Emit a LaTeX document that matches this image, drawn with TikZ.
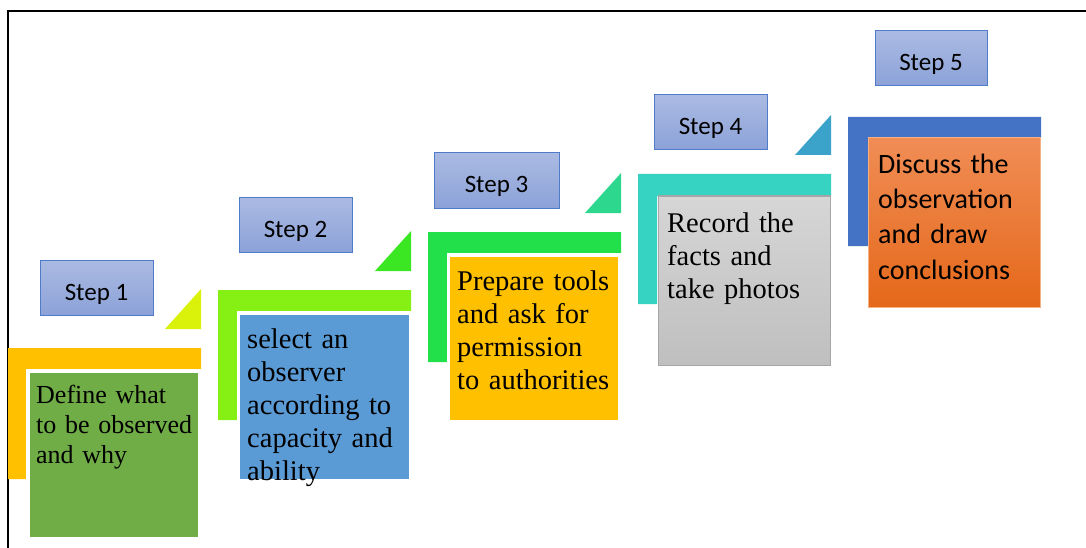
\documentclass[tikz,border=0pt]{standalone}
\usepackage{fontspec}
\setmainfont{Liberation Serif}
\newfontfamily\carlito{Carlito}
% palette
\definecolor{steptop}{HTML}{AABAE2}
\definecolor{stepbot}{HTML}{8CA2D8}
\definecolor{stepedge}{HTML}{4F7BC9}
\definecolor{lorange}{HTML}{FFC000}
\definecolor{llime}{HTML}{86F014}
\definecolor{lgreen}{HTML}{22E04A}
\definecolor{lteal}{HTML}{36D3C3}
\definecolor{lblue}{HTML}{4472C4}
\definecolor{tyellow}{HTML}{DAF20A}
\definecolor{tgreen}{HTML}{3BE622}
\definecolor{tmint}{HTML}{2DD88E}
\definecolor{tcyan}{HTML}{3BA3C9}
\definecolor{bgreen}{HTML}{70AD47}
\definecolor{bblue}{HTML}{5B9BD5}
\definecolor{bgold}{HTML}{FFC000}
\definecolor{bgreytop}{HTML}{D6D6D6}
\definecolor{bgreybot}{HTML}{BFBFBF}
\definecolor{bgreyedge}{HTML}{A6A6A6}
\definecolor{borangetop}{HTML}{F08D55}
\definecolor{borangebot}{HTML}{E5681A}
\definecolor{borangeedge}{HTML}{F4B183}
\begin{document}
\begin{tikzpicture}[x=1pt,y=-1pt,
  steplabel/.style={draw=stepedge, line width=1pt, top color=steptop,
    bottom color=stepbot, font=\carlito\fontsize{25}{30}\selectfont,
    inner sep=0pt, text height=25pt, text depth=0pt,
    minimum height=55pt, minimum width=113pt},
  serifsmall/.style={anchor=base west, inner sep=0pt, text width=240pt,
    font=\fontsize{26}{30}\selectfont},
  seriftext/.style={anchor=base west, inner sep=0pt, text width=240pt,
    font=\fontsize{28.5}{33}\selectfont},
  sanstext/.style={anchor=base west, inner sep=0pt, text width=240pt,
    font=\carlito\fontsize{28}{35}\selectfont},
]
\useasboundingbox (0,0) rectangle (1086,548);

% outer frame (top and left edges)
\draw[line width=2pt] (8,548) -- (8,11) -- (1086,11);

% ---- step 1 ----
\fill[lorange] (8,348) -- (201,348) -- (201,369) -- (26,369) -- (26,479) -- (8,479) -- cycle;
\fill[tyellow] (201,289) -- (201,329) -- (165,329) -- cycle;
\fill[white] (26,369) rectangle (201,541);
\fill[bgreen] (30,373) rectangle (198,537);
\node[steplabel] (s1) at (96.5,287.5) {Step 1};
\node[serifsmall] (t1) at (36,403) {Define what\\to be observed\\and why};

% ---- step 2 ----
\fill[llime] (218,290) -- (411,290) -- (411,311) -- (237,311) -- (237,420) -- (218,420) -- cycle;
\fill[tgreen] (411,231) -- (411,271) -- (375,271) -- cycle;
\fill[white] (237,311) rectangle (411,482);
\fill[bblue] (240,315) rectangle (409,479);
\node[steplabel] (s2) at (295.5,224.5) {Step 2};
\node[seriftext] (t2) at (247,348) {select an\\observer\\according to\\capacity and\\ability};

% ---- step 3 ----
\fill[lgreen] (428,232) -- (621,232) -- (621,253) -- (447,253) -- (447,362) -- (428,362) -- cycle;
\fill[tmint] (621,173) -- (621,213) -- (585,213) -- cycle;
\fill[white] (447,253) rectangle (621,423);
\fill[bgold] (450,257) rectangle (618,420);
\node[steplabel, minimum width=125pt] (s3) at (496.5,180.5) {Step 3};
\node[seriftext] (t3) at (457,290) {Prepare tools\\and ask for\\permission\\to authorities};

% ---- step 4 ----
\fill[lteal] (638,174) -- (831,174) -- (831,196) -- (657,196) -- (657,304) -- (638,304) -- cycle;
\fill[tcyan] (831,115) -- (831,155) -- (795,155) -- cycle;
\shade[top color=bgreytop, bottom color=bgreybot, draw=bgreyedge, line width=1pt] (658,196) rectangle (830,365);
\node[steplabel] (s4) at (710.5,122.5) {Step 4};
\node[seriftext] (t4) at (667,232) {Record the\\facts and\\take photos};

% ---- step 5 ----
\fill[lblue] (848,117) -- (1041,117) -- (1041,138) -- (868,138) -- (868,246) -- (848,246) -- cycle;
\shade[top color=borangetop, bottom color=borangebot, draw=borangeedge, line width=1pt] (868,138) rectangle (1040,307);
\node[steplabel, minimum width=112pt] (s5) at (931,58.5) {Step 5};
\node[sanstext] (t5) at (878,174) {Discuss the\\observation\\and draw\\conclusions};
\end{tikzpicture}
\end{document}
